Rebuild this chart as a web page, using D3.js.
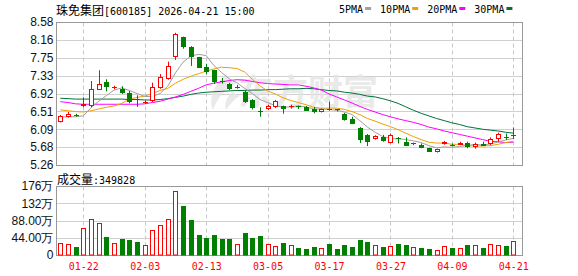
<!DOCTYPE html>
<html>
<head>
<meta charset="utf-8">
<script src="https://cdn.jsdelivr.net/npm/d3@7"></script>
<style>
  body { margin: 0; background: #fff; }
  svg { display: block; }
</style>
</head>
<body>
<svg id="chart" width="578" height="276"></svg>
<script>
// trading days shown
const dates = ["01-19","01-20","01-21","01-22","01-23","01-26","01-27","01-28","01-29","01-30",
  "02-02","02-03","02-04","02-05","02-06","02-09","02-10","02-11","02-12","02-13",
  "02-24","02-25","02-26","02-27","03-02","03-03","03-04","03-05","03-06","03-09",
  "03-10","03-11","03-12","03-13","03-16","03-17","03-18","03-19","03-20","03-23",
  "03-24","03-25","03-26","03-27","03-30","03-31","04-01","04-02","04-03","04-07",
  "04-08","04-09","04-10","04-13","04-14","04-15","04-16","04-17","04-20","04-21"];

const opens = [6.26,6.37,6.42,6.63,6.63,7.01,7.18,7.05,7.02,6.93,
  6.79,6.71,6.74,7.04,7.26,7.76,8.23,7.99,7.76,7.53,
  7.46,7.22,7.15,7.06,6.95,6.76,6.52,6.56,6.61,6.63,
  6.60,6.63,6.60,6.55,6.48,6.56,6.55,6.45,6.32,6.13,
  5.96,5.86,5.90,5.78,5.88,5.80,5.78,5.73,5.65,5.56,
  5.74,5.72,5.72,5.77,5.67,5.75,5.74,5.87,5.91,5.96];
const highs = [6.42,6.49,6.45,6.83,7.21,7.46,7.25,7.10,7.09,6.98,
  6.88,6.76,7.17,7.37,7.66,8.33,8.24,8.02,7.77,7.61,
  7.47,7.28,7.17,7.12,6.98,6.79,6.60,6.66,6.77,6.64,
  6.66,6.64,6.63,6.61,6.57,6.73,6.56,6.47,6.38,6.14,
  5.98,5.95,5.96,5.99,5.91,5.90,5.78,5.76,5.66,5.64,
  5.82,5.76,5.80,5.80,5.78,5.80,5.90,6.01,5.99,6.13];
const lows = [6.25,6.36,6.38,6.60,6.60,7.00,6.97,7.02,6.91,6.69,
  6.61,6.68,6.72,7.03,7.24,7.70,7.96,7.56,7.51,7.37,
  7.14,7.15,7.00,7.03,6.70,6.55,6.38,6.54,6.58,6.45,
  6.57,6.56,6.52,6.46,6.48,6.52,6.50,6.29,6.21,5.77,
  5.70,5.85,5.80,5.76,5.76,5.70,5.72,5.65,5.56,5.55,
  5.73,5.69,5.72,5.65,5.64,5.70,5.72,5.80,5.84,5.86];
const closes = [6.40,6.44,6.41,6.67,7.03,7.15,7.08,7.07,6.94,6.72,
  6.77,6.73,7.08,7.31,7.55,8.31,8.00,7.76,7.52,7.41,
  7.18,7.18,7.02,7.08,6.73,6.58,6.51,6.63,6.74,6.55,
  6.62,6.62,6.52,6.49,6.56,6.55,6.53,6.31,6.22,5.83,
  5.80,5.94,5.82,5.95,5.86,5.70,5.76,5.65,5.56,5.63,
  5.79,5.71,5.77,5.67,5.75,5.70,5.87,5.98,5.89,5.95];

// volume in 万
const volumes = [30,27,20,68,93,81,46,30,41,38,
  33,25,65,76,93,162,125,89,51,43,
  50,41,41,27,56,43,48,27,22,31,
  25,18,15,20,18,28,15,25,20,38,
  33,25,20,22,28,25,20,18,15,13,
  22,18,18,25,25,18,28,25,23,35];
// 1 = red (up) volume bar, 0 = green
const volUp = [1,1,0,1,1,1,0,1,0,0,
  0,1,1,1,1,1,0,0,0,0,
  0,0,0,1,0,0,0,1,1,0,
  1,0,0,0,1,0,0,0,0,0,
  0,1,0,1,0,0,1,0,0,1,
  1,0,1,0,1,0,1,1,0,1];

const ma5 = [6.37,6.38,6.38,6.40,6.59,6.74,6.87,7.00,7.05,6.99,
  6.92,6.85,6.85,6.92,7.09,7.40,7.65,7.79,7.83,7.80,
  7.57,7.41,7.26,7.17,7.04,6.92,6.78,6.71,6.64,6.60,
  6.61,6.63,6.61,6.56,6.56,6.55,6.53,6.49,6.43,6.29,
  6.14,6.02,5.92,5.87,5.87,5.85,5.82,5.78,5.71,5.66,
  5.68,5.67,5.69,5.71,5.74,5.72,5.75,5.79,5.84,5.88];
const ma10 = [6.54,6.52,6.50,6.49,6.52,6.56,6.60,6.63,6.69,6.79,
  6.83,6.86,6.92,6.99,7.04,7.16,7.25,7.32,7.38,7.44,
  7.49,7.53,7.52,7.50,7.42,7.25,7.10,6.98,6.91,6.82,
  6.76,6.71,6.66,6.60,6.58,6.58,6.58,6.55,6.50,6.43,
  6.34,6.28,6.21,6.15,6.08,6.00,5.92,5.85,5.79,5.77,
  5.77,5.74,5.74,5.71,5.70,5.70,5.71,5.74,5.78,5.81];
const ma20 = [6.73,6.71,6.68,6.67,6.67,6.67,6.67,6.67,6.67,6.67,
  6.67,6.68,6.71,6.74,6.79,6.84,6.90,6.97,7.04,7.12,
  7.16,7.19,7.22,7.24,7.23,7.20,7.17,7.15,7.14,7.13,
  7.12,7.12,7.09,7.05,7.00,6.91,6.84,6.77,6.70,6.62,
  6.55,6.49,6.43,6.38,6.33,6.29,6.25,6.20,6.14,6.10,
  6.05,6.01,5.97,5.93,5.89,5.85,5.81,5.80,5.78,5.79];
const ma30 = [6.81,6.80,6.79,6.79,6.79,6.79,6.79,6.79,6.79,6.78,
  6.78,6.77,6.77,6.78,6.80,6.83,6.86,6.90,6.93,6.95,
  6.96,6.97,6.98,6.99,6.99,7.00,7.00,7.01,7.01,7.02,
  7.03,7.03,7.04,7.03,7.01,6.99,6.98,6.95,6.93,6.90,
  6.86,6.84,6.80,6.75,6.69,6.61,6.53,6.46,6.40,6.34,
  6.29,6.24,6.20,6.15,6.12,6.09,6.07,6.05,6.02,6.00];

const priceTicks = [8.58,8.16,7.75,7.33,6.92,6.51,6.09,5.68,5.26];
const volTicks = [0,44,88,132,176];
const volTickLabels = ["0","44.00万","88.00万","132万","176万"];
const dateTicks = ["01-22","02-03","02-13","03-05","03-17","03-27","04-09","04-21"];
const maNames = ["5PMA","10PMA","20PMA","30PMA"];
const maColors = ["#a0a0a0","#f0a000","#ff00ff","#00713a"];

const title = "珠免集团";
const titleInfo = "[600185] 2026-04-21 15:00";
const volTitle = "成交量";
const volInfo = ":349828";

const RED = "#ff0000", GREEN = "#008000";
const monoFont = "'DejaVu Sans Mono', monospace";
const cjkFont = "'Noto Sans CJK SC', sans-serif";
const numFont = "'Liberation Sans', Arial, sans-serif";

const svg = d3.select("#chart");
const left = 56.5, right = 522.5;
const priceTop = 22, priceBottom = 165;
const volTop = 186, volBottom = 255;

const x = d3.scalePoint().domain(dates).range([60.3, 513.3]);
const y = d3.scaleLinear().domain([5.26, 8.58]).range([priceBottom, priceTop]);
const yv = d3.scaleLinear().domain([0, 176]).range([volBottom, volTop]);
const px = v => Math.round(v) + 0.5;

// ---------- grids ----------
const grid = svg.append("g");
grid.selectAll(".hp").data(priceTicks).enter().append("line")
  .attr("x1", left).attr("x2", right)
  .attr("y1", d => px(y(d))).attr("y2", d => px(y(d)))
  .attr("stroke", "#d0d0d0");
grid.selectAll(".hv").data(volTicks).enter().append("line")
  .attr("x1", left).attr("x2", right)
  .attr("y1", d => px(yv(d))).attr("y2", d => px(yv(d)))
  .attr("stroke", "#d0d0d0");
[[priceTop, priceBottom], [volTop, volBottom]].forEach(([t, b]) => {
  grid.selectAll(null).data(dateTicks).enter().append("line")
    .attr("x1", d => px(x(d))).attr("x2", d => px(x(d)))
    .attr("y1", px(t)).attr("y2", px(b))
    .attr("stroke", "#c8c8c8").attr("stroke-dasharray", "4,3");
});

// watermark
const wm = svg.append("g").attr("fill", "#e4e4e4").attr("opacity", 0.8);
wm.append("path")
  .attr("d", "M226,74 C214,84 208,98 213,110 C217,99 224,90 236,83 C232,80 229,77 226,74 Z M232,92 C226,98 224,104 226,110 C230,104 234,99 240,96 Z");
wm.append("text").attr("x", 238).attr("y", 105)
  .attr("font-family", cjkFont).attr("font-size", 35).attr("font-weight", "bold")
  .attr("textLength", 140).text("东方财富");

// borders
[[priceTop, priceBottom], [volTop, volBottom]].forEach(([t, b]) => {
  svg.append("rect")
    .attr("x", left).attr("y", px(t))
    .attr("width", right - left).attr("height", px(b) - px(t))
    .attr("fill", "none").attr("stroke", "#999");
});

// ---------- MA lines ----------
const line = d3.line().x((d, i) => x(dates[i])).y(d => y(d));
[ma30, ma20, ma10, ma5].forEach((s, k) => {
  svg.append("path").datum(s)
    .attr("d", line)
    .attr("fill", "none")
    .attr("stroke", maColors[3 - k])
    .attr("stroke-width", 1);
});

// ---------- candles ----------
const candles = svg.append("g");
dates.forEach((d, i) => {
  const up = closes[i] >= opens[i];
  const col = up ? RED : GREEN;
  const cx = Math.round(x(d));
  candles.append("line")
    .attr("x1", cx + 0.5).attr("x2", cx + 0.5)
    .attr("y1", y(highs[i])).attr("y2", y(lows[i]))
    .attr("stroke", col);
  const top = Math.round(y(Math.max(opens[i], closes[i])));
  const h = Math.max(1, Math.round(y(Math.min(opens[i], closes[i]))) - top);
  if (up) {
    candles.append("rect")
      .attr("x", cx - 1.5).attr("y", top + 0.5)
      .attr("width", 4).attr("height", Math.max(h - 1, 0.01))
      .attr("fill", h > 2 ? "#fff" : RED).attr("stroke", RED);
  } else {
    candles.append("rect")
      .attr("x", cx - 2).attr("y", top)
      .attr("width", 5).attr("height", h)
      .attr("fill", GREEN);
  }
});

// ---------- volume ----------
const vols = svg.append("g");
dates.forEach((d, i) => {
  const cx = Math.round(x(d));
  const top = Math.round(yv(volumes[i]));
  if (volUp[i]) {
    vols.append("rect")
      .attr("x", cx - 1.5).attr("y", top + 0.5)
      .attr("width", 4).attr("height", volBottom - top - 0.5)
      .attr("fill", "#fff").attr("stroke", RED);
  } else {
    vols.append("rect")
      .attr("x", cx - 2).attr("y", top)
      .attr("width", 5).attr("height", volBottom - top + 0.5)
      .attr("fill", GREEN);
  }
});

// ---------- axes ----------
const yAxis = d3.axisLeft(y).tickValues(priceTicks)
  .tickFormat(d3.format(".2f")).tickSize(0).tickPadding(3);
svg.append("g").attr("transform", `translate(${left},0)`).call(yAxis)
  .call(g => g.select(".domain").remove())
  .selectAll("text")
  .attr("font-family", numFont).attr("font-size", 12).attr("fill", "#111");

const vAxis = d3.axisLeft(yv).tickValues(volTicks)
  .tickFormat((d, i) => volTickLabels[i]).tickSize(0).tickPadding(3);
svg.append("g").attr("transform", `translate(${left},0)`).call(vAxis)
  .call(g => g.select(".domain").remove())
  .selectAll("text")
  .attr("font-family", numFont).attr("font-size", 12).attr("fill", "#111");

const xAxis = d3.axisBottom(x).tickValues(dateTicks).tickSize(0).tickPadding(8);
svg.append("g").attr("transform", `translate(0,${volBottom})`).call(xAxis)
  .call(g => g.select(".domain").remove())
  .selectAll("text")
  .attr("font-family", monoFont).attr("font-size", 10).attr("fill", RED);

// ---------- titles ----------
const t1 = svg.append("text").attr("x", 56).attr("y", 15).attr("fill", "#000")
  .style("white-space", "pre");
t1.append("tspan").attr("font-family", cjkFont).attr("font-size", 12).text(title);
t1.append("tspan").attr("font-family", monoFont).attr("font-size", 10).text(titleInfo);

const t2 = svg.append("text").attr("x", 57).attr("y", 184).attr("fill", "#000");
t2.append("tspan").attr("font-family", cjkFont).attr("font-size", 12).text(volTitle);
t2.append("tspan").attr("font-family", monoFont).attr("font-size", 10).text(volInfo);

// legend
let lx = 339;
maNames.forEach((n, i) => {
  const t = svg.append("text").attr("x", lx).attr("y", 13)
    .attr("font-family", monoFont).attr("font-size", 10).attr("fill", "#000").text(n);
  const w = t.node().getComputedTextLength();
  svg.append("rect").attr("x", lx + w + 2).attr("y", 7)
    .attr("width", 6).attr("height", 3).attr("fill", maColors[i]);
  lx += w + 17;
});
</script>
</body>
</html>
